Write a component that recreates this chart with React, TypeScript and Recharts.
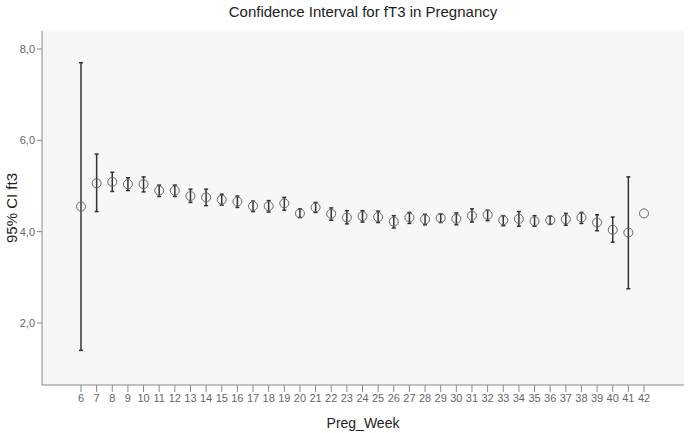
import { ComposedChart, Scatter, ErrorBar, XAxis, YAxis, CartesianGrid } from "recharts";

const weeks = [6, 7, 8, 9, 10, 11, 12, 13, 14, 15, 16, 17, 18, 19, 20, 21, 22, 23, 24, 25, 26, 27, 28, 29, 30, 31, 32, 33, 34, 35, 36, 37, 38, 39, 40, 41, 42];
const means = [4.55, 5.06, 5.09, 5.04, 5.04, 4.9, 4.9, 4.78, 4.75, 4.7, 4.66, 4.56, 4.56, 4.62, 4.4, 4.53, 4.39, 4.31, 4.34, 4.32, 4.22, 4.31, 4.27, 4.3, 4.28, 4.35, 4.37, 4.25, 4.28, 4.23, 4.25, 4.27, 4.31, 4.2, 4.04, 3.98, 4.4];
const lowers = [1.4, 4.44, 4.88, 4.9, 4.87, 4.77, 4.77, 4.64, 4.57, 4.58, 4.53, 4.44, 4.43, 4.47, 4.31, 4.42, 4.25, 4.17, 4.21, 4.2, 4.08, 4.18, 4.15, 4.2, 4.15, 4.21, 4.24, 4.13, 4.12, 4.12, 4.16, 4.14, 4.18, 4.02, 3.77, 2.75, null];
const uppers = [7.7, 5.7, 5.3, 5.18, 5.2, 5.02, 5.02, 4.93, 4.93, 4.82, 4.78, 4.67, 4.68, 4.75, 4.5, 4.64, 4.52, 4.46, 4.46, 4.45, 4.35, 4.42, 4.38, 4.39, 4.41, 4.5, 4.47, 4.35, 4.44, 4.35, 4.34, 4.4, 4.42, 4.37, 4.32, 5.2, null];
const yTicks = [2, 4, 6, 8];

const data = weeks.map((w, i) => ({
  week: w,
  mean: means[i],
  err: lowers[i] == null || uppers[i] == null ? null : [means[i] - (lowers[i] as number), (uppers[i] as number) - means[i]],
}));

const font = '"Liberation Sans", Arial, sans-serif';
const tickStyle = { fontSize: 11, fill: "#666", fontFamily: font };

const Dot = (props: any) => (
  <circle cx={props.cx} cy={props.cy} r={4.5} fill="none" stroke="#666" strokeWidth={1} />
);

export default function App() {
  return (
    <div style={{ position: "absolute", left: 0, top: 0, width: 689, height: 433, background: "#fff", fontFamily: font }}>
      <div style={{ position: "absolute", left: 42, width: 642, top: 3, textAlign: "center", fontSize: 15, color: "#222" }}>
        Confidence Interval for fT3 in Pregnancy
      </div>
      <ComposedChart width={689} height={433} data={data} margin={{ top: 31, right: 5, bottom: 0, left: 0 }}>
        <CartesianGrid horizontal={false} vertical={false} fill="#f7f7f7" />
        <XAxis
          dataKey="week"
          type="number"
          domain={[6, 42]}
          ticks={weeks}
          interval={0}
          padding={{ left: 39, right: 40 }}
          height={48}
          tickSize={7}
          tickMargin={2}
          tick={tickStyle}
          stroke="#888"
          label={{ value: "Preg_Week", position: "insideBottom", offset: 5, style: { fontSize: 14, fill: "#222", fontFamily: font } }}
        />
        <XAxis xAxisId="top" orientation="top" type="number" domain={[0, 1]} height={0} tick={false} tickLine={false} stroke="#888" />
        <YAxis
          dataKey="mean"
          type="number"
          domain={[0.642, 8.394]}
          allowDataOverflow
          ticks={yTicks}
          width={42}
          tickSize={5}
          tickMargin={2}
          tick={tickStyle}
          stroke="#888"
          tickFormatter={(v: number) => v.toFixed(1).replace(".", ",")}
          label={{ value: "95% CI ft3", angle: -90, position: "insideLeft", dx: 7, style: { fontSize: 15, fill: "#222", fontFamily: font, textAnchor: "middle" } }}
        />
        <YAxis yAxisId="right" orientation="right" type="number" domain={[0, 1]} width={0} tick={false} tickLine={false} stroke="#888" />
        <Scatter dataKey="mean" shape={Dot} isAnimationActive={false}>
          <ErrorBar dataKey="err" direction="y" width={2} stroke="#333" strokeWidth={1.5} />
        </Scatter>
      </ComposedChart>
    </div>
  );
}
